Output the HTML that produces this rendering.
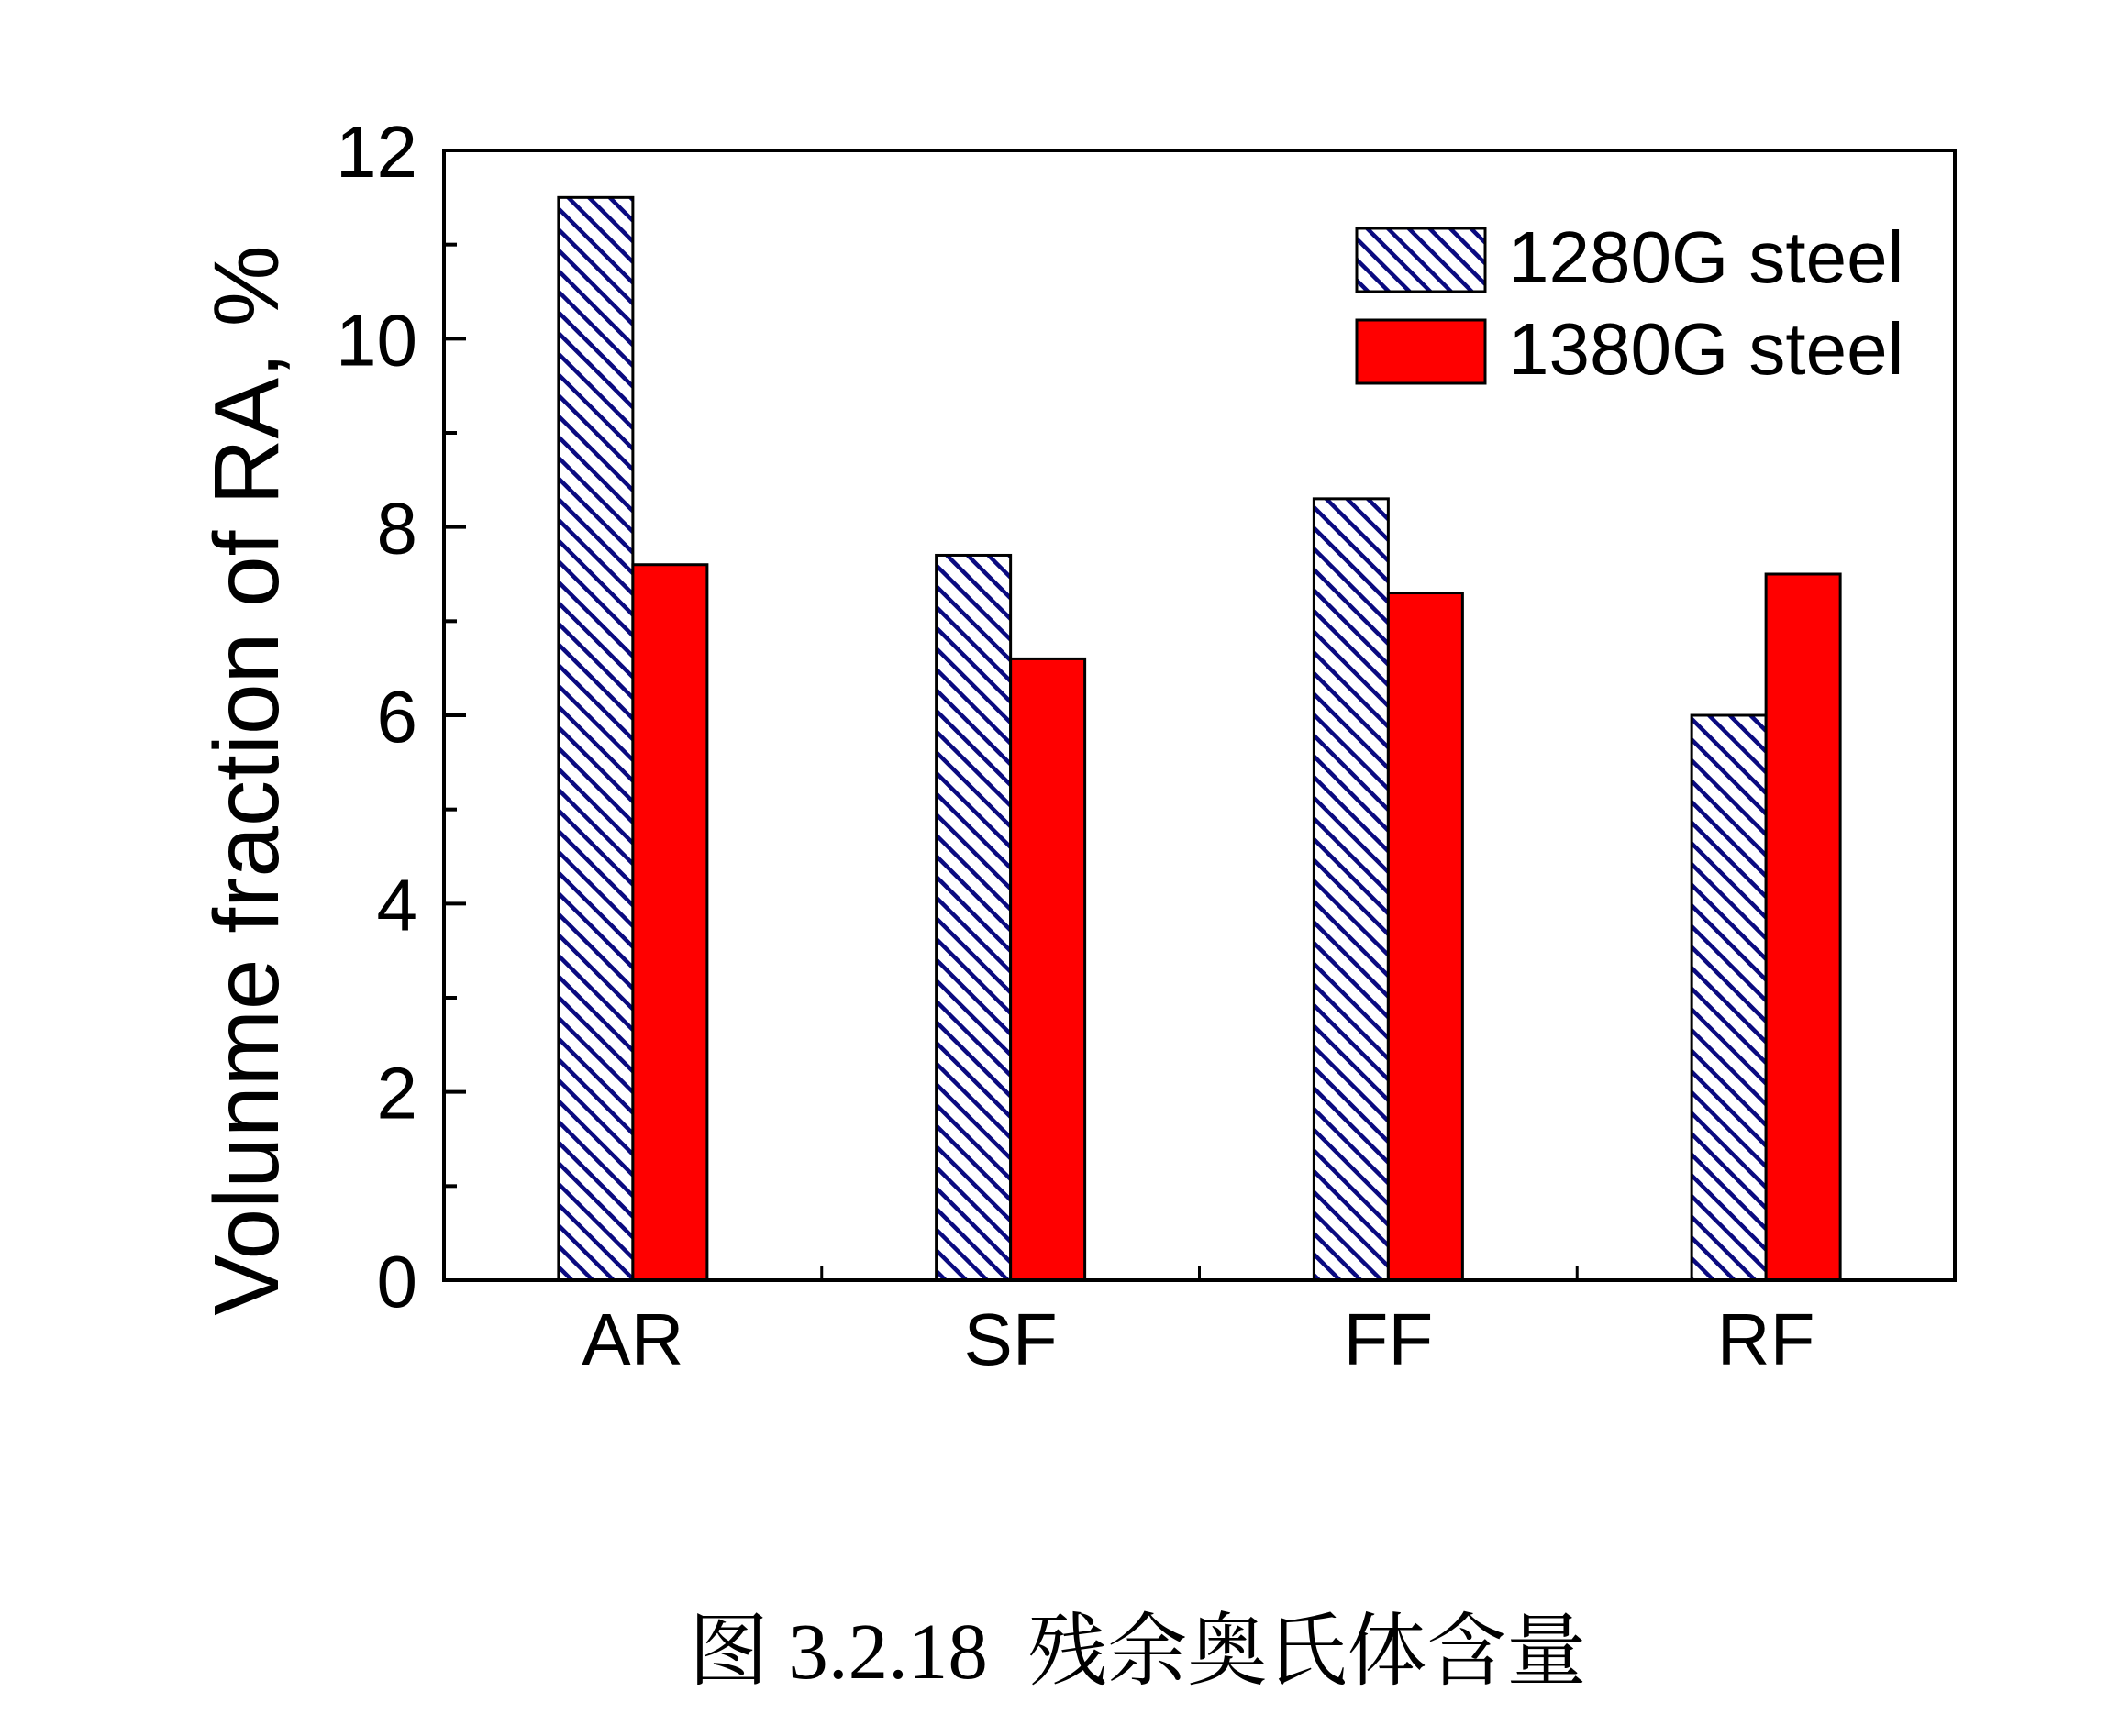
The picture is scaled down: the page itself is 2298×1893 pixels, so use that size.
<!DOCTYPE html>
<html><head><meta charset="utf-8"><style>
html,body{margin:0;padding:0;background:#fff;}
svg{display:block;}
</style></head><body>
<svg id="chart" width="2298" height="1893" viewBox="0 0 2298 1893" xmlns="http://www.w3.org/2000/svg" font-family="'Liberation Sans', Arial, sans-serif">
<defs>
<pattern id="hatch" patternUnits="userSpaceOnUse" width="16" height="16" patternTransform="rotate(45)">
<rect width="16" height="16" fill="#fff"/>
<rect x="0" y="0" width="16" height="4.5" fill="#0a0a80"/>
</pattern>
</defs>
<g id="plot"></g>
<text transform="translate(303,851) rotate(-90)" text-anchor="middle" font-size="100">Volunme fraction of RA, %</text>
<g>
<rect x="1479" y="249" width="140" height="69" fill="url(#hatch)" stroke="#000" stroke-width="3"/>
<text x="1644" y="308" font-size="80">1280G steel</text>
<rect x="1479" y="349" width="140" height="69" fill="#ff0000" stroke="#000" stroke-width="3"/>
<text x="1644" y="408" font-size="80">1380G steel</text>
</g>
<text x="1240" y="1830" text-anchor="middle" font-size="87" font-family="'Liberation Serif','Noto Serif CJK SC',serif" xml:space="preserve">图 3.2.18  残余奥氏体含量</text>
</svg>
<script>
const categories = ["AR","SF","FF","RF"];
const series1280 = [11.5, 7.7, 8.3, 6.0];
const series1380 = [7.6, 6.6, 7.3, 7.5];
const yTicks = [0,2,4,6,8,10,12];

const L=484, R=2131, T=164, B=1396, yMax=12;
const NS="http://www.w3.org/2000/svg";
const g=document.getElementById('plot');
const y=v=>B-(v/yMax)*(B-T);
const band=(R-L)/categories.length;
const xc=i=>L+band*(i+0.5);
const bw=81;
function mk(tag,attrs){const e=document.createElementNS(NS,tag);for(const k in attrs)e.setAttribute(k,attrs[k]);g.appendChild(e);return e;}

categories.forEach((c,i)=>{
  const r1=mk('rect',{x:xc(i)-bw,y:y(series1280[i]),width:bw,height:B-y(series1280[i]),fill:'url(#hatch)',stroke:'#000','stroke-width':3});
  
  
  const r2=mk('rect',{x:xc(i),y:y(series1380[i]),width:bw,height:B-y(series1380[i]),fill:'#ff0000',stroke:'#000','stroke-width':3});
  
  
  const t=mk('text',{x:xc(i),y:B+92,'text-anchor':'middle','font-size':80});
  t.textContent=c;
  
  
  if(i>0){const tk=mk('line',{x1:L+band*i,x2:L+band*i,y1:B,y2:B-16,stroke:'#000','stroke-width':3});
    
    }
});
yTicks.forEach((v,i)=>{
  const tk=mk('line',{x1:L,x2:L+24,y1:y(v),y2:y(v),stroke:'#000','stroke-width':4});
  
  
  const t=mk('text',{x:L-29,y:y(v)+29,'text-anchor':'end','font-size':80});
  t.textContent=v;
  
  
  if(i<yTicks.length-1){const m=(v+yTicks[i+1])/2;
    const mt=mk('line',{x1:L,x2:L+14,y1:y(m),y2:y(m),stroke:'#000','stroke-width':4});
    
    }
});
const frame=mk('rect',{x:L,y:T,width:R-L,height:B-T,fill:'none',stroke:'#000','stroke-width':4});


</script>
</body></html>
